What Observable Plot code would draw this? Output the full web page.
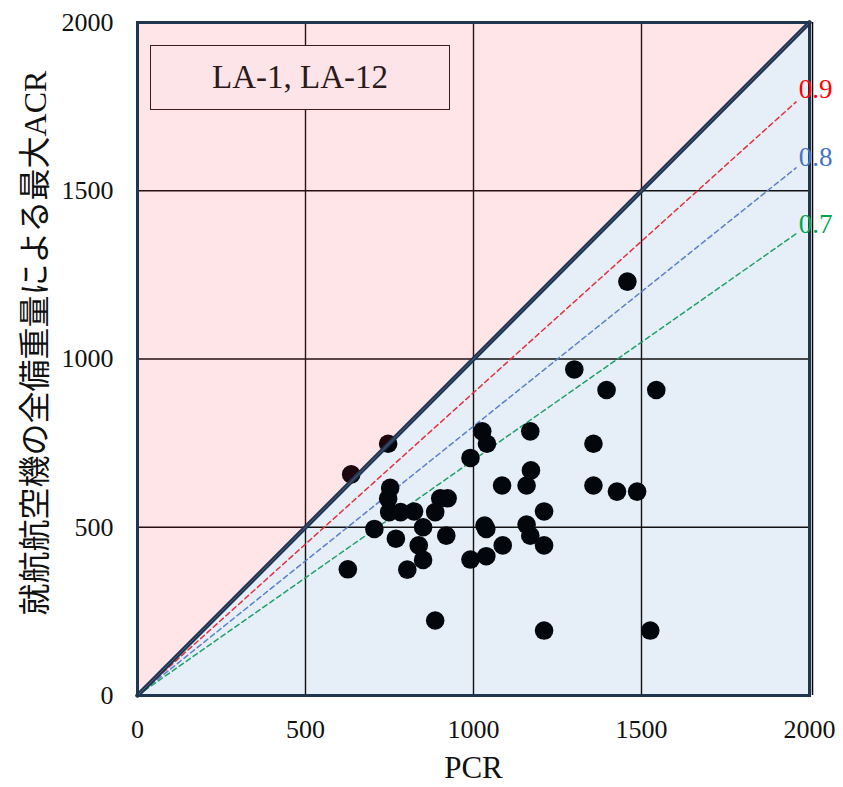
<!DOCTYPE html>
<html>
<head>
<meta charset="utf-8">
<script src="https://cdn.jsdelivr.net/npm/d3@7"></script>
<script src="https://cdn.jsdelivr.net/npm/@observablehq/plot@0.6"></script>
<style>
  html, body { margin: 0; padding: 0; background: #fff; }
  #wrap { position: relative; width: 843px; height: 787px; }
  #legend {
    position: absolute; left: 150px; top: 45px; width: 298px; height: 63px;
    background: #fde4e8; border: 1.5px solid #3a1a1c;
    font-family: "Liberation Serif", "Times New Roman", serif; font-size: 33px; color: #2a1a1a;
    display: flex; align-items: center; justify-content: center;
  }
</style>
</head>
<body>
<div id="wrap"><div id="legend">LA-1, LA-12</div></div>
<script>
// PCR values (x) and maximum ACR values (y)
const pcr = [636, 746, 626, 752, 746, 749, 783, 823, 705, 769, 850, 837, 850, 803, 886, 901, 923, 919, 886,
             991, 1026, 1040, 991, 1033, 1038, 1038, 1085, 1087, 1169, 1171, 1158, 1158, 1169, 1210, 1210, 1210,
             1357, 1357, 1427, 1487, 1458, 1300, 1396, 1544, 1526];
const acr = [657, 748, 375, 617, 585, 545, 545, 547, 495, 466, 500, 446, 403, 374, 545, 586, 586, 475, 223,
             706, 785, 748, 404, 505, 495, 414, 624, 446, 785, 669, 624, 508, 475, 547, 446, 193,
             748, 624, 606, 606, 1230, 969, 908, 908, 193];
const ticks = [0, 500, 1000, 1500, 2000];
const gridValues = [500, 1000, 1500];
const domainMax = 2000;
const ratios = [0.9, 0.8, 0.7];
const ratioColors = ["#e3303c", "#5a7fcc", "#1fa065"];
const ratioLabelColors = ["#ff0000", "#4472c4", "#00a550"];
const ratioLineEnd = 1960;
const yLabel = "就航航空機の全備重量による最大ACR";
const xLabel = "PCR";

const serif = "'Liberation Serif', 'Times New Roman', serif";
const points = pcr.map((x, i) => ({x, y: acr[i]}));
const diag = [0, domainMax].map(v => ({x: v, y: v}));
const ratioLines = ratios.flatMap((r, i) => [0, ratioLineEnd].map(x => ({x, y: r * x, k: i})));
const ratioLabels = ratios.map((r, i) => ({x: domainMax, y: r * domainMax, t: String(r), c: ratioLabelColors[i]}));

const plot = Plot.plot({
  width: 843,
  height: 787,
  marginLeft: 137,
  marginRight: 34,
  marginTop: 22,
  marginBottom: 92,
  x: {domain: [0, domainMax]},
  y: {domain: [0, domainMax]},
  style: {fontFamily: serif, fontSize: "26px", color: "#111", background: "transparent"},
  marks: [
    Plot.areaY(diag, {x: "x", y1: 0, y2: "y", fill: "#e6eef8"}),
    Plot.ruleX(gridValues, {stroke: "#111", strokeWidth: 1.4}),
    Plot.ruleY(gridValues, {stroke: "#111", strokeWidth: 1.4}),
    ...ratios.map((r, i) => Plot.line(ratioLines.filter(d => d.k === i), {x: "x", y: "y", stroke: ratioColors[i], strokeWidth: 1.5, strokeDasharray: "5,3.5"})),
    Plot.dot(points, {x: "x", y: "y", r: 9.3, fill: "#03070c", stroke: "none"}),
    Plot.areaY(diag, {x: "x", y1: "y", y2: domainMax, fill: "#ff0a2a", fillOpacity: 0.105}),
    Plot.line(diag, {x: "x", y: "y", stroke: "#1f3550", strokeWidth: 4.5}),
    Plot.line(diag, {x: "x", y: "y", stroke: "#5a6f86", strokeWidth: 0.8}),
    Plot.ruleX([domainMax], {stroke: "#000", strokeWidth: 1.5, dx: 3}),
    Plot.frame({stroke: "#1f3550", strokeWidth: 3}),
    Plot.text(ratioLabels, {x: "x", y: "y", text: "t", fill: "c", dx: 6, fontSize: 27, textAnchor: "middle", fontFamily: serif}),
    Plot.axisX(ticks, {tickSize: 0, tickPadding: 24, label: null, fontSize: 26, tickFormat: d => String(d), fontFamily: serif}),
    Plot.axisY(ticks, {tickSize: 0, tickPadding: 24, label: null, fontSize: 26, tickFormat: d => String(d), fontFamily: serif}),
    Plot.text([xLabel], {frameAnchor: "bottom", dy: 73, lineAnchor: "middle", textAnchor: "middle", fontSize: 31, fontFamily: serif}),
    Plot.text([yLabel], {frameAnchor: "left", dx: -102, dy: -16, rotate: -90, lineAnchor: "middle", textAnchor: "middle",
      fontSize: 32, fontFamily: "'Liberation Serif', 'Times New Roman', 'Noto Sans CJK JP', serif"})
  ]
});
document.getElementById("wrap").prepend(plot);
plot.style.position = "absolute";
plot.style.left = "0";
plot.style.top = "0";
</script>
</body>
</html>
